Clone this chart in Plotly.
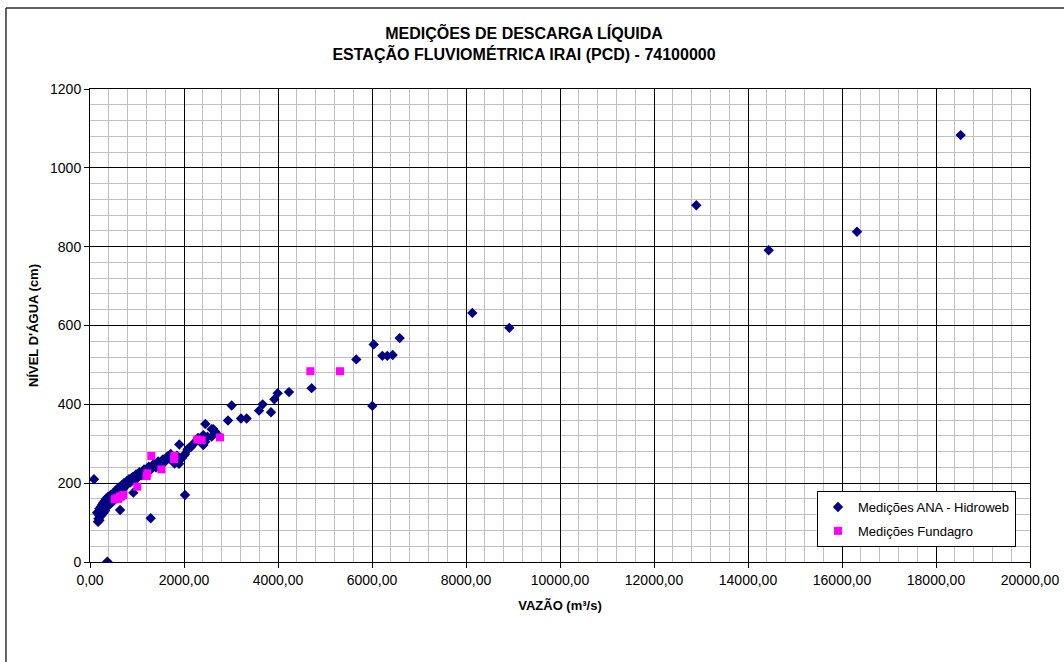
import plotly.graph_objects as go

# Medições ANA - Hidroweb (vazão m³/s, nível cm)
ana_q = [150, 170, 180, 190, 200, 200, 210, 220, 230, 240, 250, 260, 270, 280, 290, 300, 310, 320, 330, 340,
         350, 360, 380, 400, 420, 440, 460, 480, 500, 520, 540, 560, 580, 600, 620, 640, 650, 680, 700, 720,
         750, 780, 800, 830, 860, 900, 922, 940, 980, 1000, 1050, 1100, 1150, 1200, 1250, 1291, 1300, 1350, 1400, 1450,
         1500, 1550, 1600, 1650, 1700, 1716, 1750, 1800, 1850, 1894, 1900, 1950, 2000, 2021, 2021, 2071, 2092, 2150, 2200, 2250,
         2300, 2350, 2411, 2411, 2454, 2450, 2500, 2589, 2589, 2624, 2660, 2700, 2936, 3014, 3213, 3333, 3596, 3674, 3851, 3922,
         3993, 4234, 4716, 5666, 6007, 6036, 6220, 6326, 6440, 6589, 8134, 8922, 12900, 14440, 16319, 18525, 85, 369]
ana_h = [125, 102, 110, 120, 106, 135, 115, 130, 140, 118, 128, 145, 135, 150, 125, 140, 155, 130, 148, 160,
         138, 152, 165, 145, 158, 170, 150, 165, 175, 160, 180, 170, 185, 175, 190, 132, 182, 195, 185, 200,
         192, 205, 198, 210, 202, 215, 176, 208, 222, 212, 228, 220, 235, 228, 242, 111, 235, 248, 240, 255,
         248, 260, 255, 268, 262, 274, 258, 250, 270, 249, 298, 263, 270, 274, 170, 284, 288, 292, 300, 305,
         315, 305, 322, 297, 350, 305, 318, 318, 337, 337, 331, 325, 359, 397, 364, 364, 384, 400, 380, 413,
         428, 431, 441, 514, 396, 552, 523, 523, 525, 568, 632, 594, 905, 791, 838, 1083, 210, 1]

# Medições Fundagro
fund_q = [525, 567, 600, 638, 667, 709, 1006, 1206, 1220, 1305, 1518, 1787, 1794, 2284, 2376, 2766, 4688, 5319]
fund_h = [159, 162, 160, 166, 166, 170, 191, 218, 225, 269, 235, 261, 269, 311, 309, 316, 484, 484]

fig = go.Figure()
fig.add_trace(go.Scatter(x=ana_q, y=ana_h, mode="markers", name="Medições ANA - Hidroweb",
                         legendgroup="ana",
                         marker=dict(symbol="diamond", color="#000080", size=8, line=dict(width=0))))
fig.add_trace(go.Scatter(x=fund_q, y=fund_h, mode="markers", name="Medições Fundagro",
                         legendgroup="fund",
                         marker=dict(symbol="square", color="#FF00FF", size=8, line=dict(width=0))))

font_family = "Liberation Sans, Arial, sans-serif"

fig.update_layout(
    width=1064, height=662,
    margin=dict(l=90, r=34, t=89, b=100),
    paper_bgcolor="white", plot_bgcolor="white",
    separators=", ",
    font=dict(family=font_family, size=14, color="black"),
    showlegend=True,
    title=dict(text="<b>MEDIÇÕES DE DESCARGA LÍQUIDA<br>ESTAÇÃO FLUVIOMÉTRICA IRAI (PCD) - 74100000</b>",
               x=524 / 1064, xref="container", xanchor="center", y=1 - 39 / 662, yanchor="top", yref="container",
               font=dict(size=16, family=font_family, color="black")),
    legend=dict(x=(817 - 90) / 940, y=(562 - 491) / 473, xanchor="left", yanchor="top", xref="paper", yref="paper",
                bgcolor="white", bordercolor="black", borderwidth=1,
                font=dict(size=13, family=font_family), itemsizing="trace",
                tracegroupgap=4, itemwidth=30),
    xaxis=dict(range=[0, 20000], dtick=2000, tick0=0, tickformat=".2f", automargin=False,
               showgrid=True, gridcolor="black", gridwidth=1,
               minor=dict(dtick=400, showgrid=True, gridcolor="#c0c0c0", gridwidth=1),
               showline=True, linecolor="black", linewidth=1, mirror=True,
               ticks="outside", ticklen=5, tickcolor="black",
               zeroline=False,
               tickfont=dict(size=14, family=font_family),
               title=dict(text="<b>VAZÃO (m³/s)</b>", font=dict(size=13, family=font_family), standoff=14)),
    yaxis=dict(range=[0, 1200], dtick=200, tick0=0, tickformat="d", automargin=False,
               showgrid=True, gridcolor="black", gridwidth=1,
               minor=dict(dtick=40, showgrid=True, gridcolor="#c0c0c0", gridwidth=1),
               showline=True, linecolor="black", linewidth=1, mirror=True,
               ticks="outside", ticklen=5, tickcolor="black",
               zeroline=False,
               tickfont=dict(size=14, family=font_family),
               title=dict(text="<b>NÍVEL D'ÁGUA (cm)</b>", font=dict(size=13, family=font_family), standoff=8)),
)

# outer chart border (left and top edges visible)
fig.add_shape(type="line", xref="paper", yref="paper", x0=-0.0894, x1=1.1, y0=1.171, y1=1.171,
              line=dict(color="#303030", width=1.5))
fig.add_shape(type="line", xref="paper", yref="paper", x0=-0.0894, x1=-0.0894, y0=1.171, y1=-0.22,
              line=dict(color="#303030", width=1.5))

fig.write_html("out.html")
